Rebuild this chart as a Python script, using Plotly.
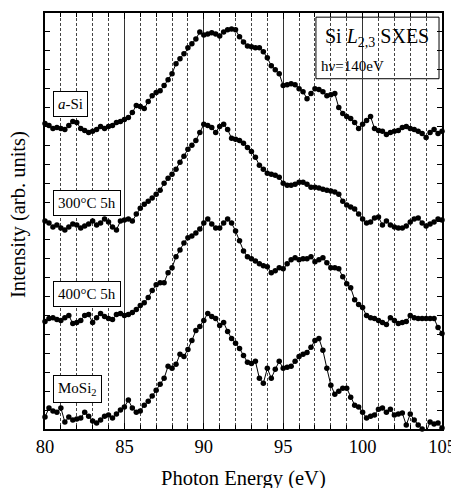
import plotly.graph_objects as go

# Photon energy (eV) sampling positions
energy = [
    80.0, 80.25, 80.5, 80.75, 81.0, 81.25, 81.5, 81.75, 82.0, 82.25, 82.5, 82.75,
    83.0, 83.25, 83.5, 83.75, 84.0, 84.25, 84.5, 84.75, 85.0, 85.25, 85.5, 85.75,
    86.0, 86.25, 86.5, 86.75, 87.0, 87.25, 87.5, 87.75, 88.0, 88.25, 88.5, 88.75,
    89.0, 89.25, 89.5, 89.75, 90.0, 90.25, 90.5, 90.75, 91.0, 91.25, 91.5, 91.75,
    92.0, 92.25, 92.5, 92.75, 93.0, 93.25, 93.5, 93.75, 94.0, 94.25, 94.5, 94.75,
    95.0, 95.25, 95.5, 95.75, 96.0, 96.25, 96.5, 96.75, 97.0, 97.25, 97.5, 97.75,
    98.0, 98.25, 98.5, 98.75, 99.0, 99.25, 99.5, 99.75, 100.0, 100.25, 100.5, 100.75,
    101.0, 101.25, 101.5, 101.75, 102.0, 102.25, 102.5, 102.75, 103.0, 103.25, 103.5, 103.75,
    104.0, 104.25, 104.5, 104.75, 105.0,
]

# Intensities (arb. units, curves vertically offset)
a_si = [
    16.16, 16.05, 15.89, 15.95, 15.89, 15.84, 16.05, 16.26, 16.21, 15.89, 15.79, 15.68,
    15.74, 15.84, 16.00, 15.89, 16.00, 16.05, 16.21, 16.26, 16.37, 16.47, 16.74, 17.11,
    17.05, 16.95, 17.32, 17.63, 17.79, 17.89, 18.16, 18.47, 18.79, 19.32, 19.58, 19.84,
    20.16, 20.37, 20.63, 21.00, 20.84, 20.89, 20.95, 20.89, 20.79, 21.00, 21.11, 21.16,
    21.11, 20.74, 20.47, 20.26, 20.21, 20.16, 20.16, 19.95, 19.63, 19.21, 19.00, 18.79,
    18.16, 18.21, 18.26, 18.21, 18.00, 17.84, 17.47, 17.74, 18.00, 17.95, 17.84, 17.63,
    17.68, 17.74, 17.00, 16.68, 16.53, 16.42, 16.21, 15.89, 16.11, 16.32, 16.53, 15.89,
    15.79, 15.74, 15.58, 15.68, 15.74, 15.79, 15.95, 16.00, 15.89, 15.84, 15.74, 15.63,
    15.42, 15.68, 15.84, 15.63, 15.74,
]

c300 = [
    11.00, 10.89, 10.68, 10.79, 10.63, 10.53, 10.68, 10.84, 10.79, 10.63, 10.74, 10.84,
    11.00, 10.79, 10.89, 11.11, 10.95, 10.68, 10.53, 11.00, 11.05, 11.11, 11.00, 11.37,
    11.68, 11.89, 12.05, 12.21, 12.42, 12.63, 13.00, 13.26, 13.47, 13.74, 14.11, 14.42,
    14.79, 15.00, 15.26, 15.68, 16.11, 16.05, 15.95, 15.68, 16.00, 16.11, 15.84, 15.37,
    15.32, 15.26, 15.11, 14.89, 14.68, 14.37, 13.95, 13.74, 13.53, 13.47, 13.42, 13.32,
    13.00, 12.89, 12.89, 12.95, 13.05, 13.05, 12.95, 12.79, 12.79, 12.74, 12.68, 12.63,
    12.58, 12.53, 12.42, 12.05, 11.84, 11.74, 11.63, 11.37, 11.11, 10.89, 10.95, 11.16,
    11.21, 10.79, 11.00, 10.79, 10.68, 10.63, 10.63, 10.74, 10.95, 11.11, 11.16, 10.89,
    10.74, 10.84, 10.95, 11.11, 11.05,
]

c400 = [
    5.68, 5.84, 5.89, 5.79, 5.74, 5.89, 6.00, 5.58, 5.63, 5.74, 6.00, 6.05,
    5.63, 5.89, 6.11, 5.95, 5.84, 5.79, 6.05, 6.11, 6.00, 6.05, 6.16, 6.32,
    6.53, 6.68, 6.95, 7.32, 7.63, 7.74, 7.74, 8.26, 8.53, 9.11, 9.47, 9.84,
    10.11, 10.21, 10.37, 10.58, 10.89, 11.11, 10.84, 10.63, 10.63, 10.89, 11.11, 10.89,
    10.47, 9.95, 9.42, 9.11, 9.00, 8.89, 8.74, 8.63, 8.58, 8.26, 8.37, 8.53,
    8.47, 8.74, 8.95, 9.05, 8.95, 9.00, 9.00, 9.11, 8.84, 8.95, 9.05, 8.79,
    8.53, 8.53, 8.47, 8.05, 7.68, 7.47, 6.84, 6.58, 6.42, 6.00, 5.89, 5.84,
    5.74, 5.63, 5.53, 5.89, 5.74, 5.58, 5.63, 5.68, 6.00, 5.89, 5.84, 5.84,
    5.84, 5.84, 5.84, 5.37, 5.05,
]

mosi2 = [
    0.63, 1.11, 0.95, 0.89, 1.11, 0.37, 0.63, 0.47, 0.53, 0.58, 0.89, 0.68,
    0.42, 0.32, 0.47, 0.68, 0.74, 0.58, 0.79, 1.00, 1.16, 1.53, 1.11, 0.89,
    0.95, 1.26, 1.47, 1.74, 2.05, 2.37, 2.68, 3.32, 3.21, 3.42, 3.95, 3.84,
    4.21, 4.68, 5.21, 5.42, 5.74, 6.11, 5.95, 5.84, 5.47, 5.63, 5.16, 4.79,
    4.53, 4.26, 3.89, 3.53, 3.47, 3.58, 2.68, 2.42, 3.21, 2.68, 3.16, 3.58,
    3.21, 3.26, 3.32, 3.58, 3.84, 3.95, 4.05, 4.32, 4.68, 4.79, 4.16, 3.21,
    2.32, 1.84, 2.00, 2.16, 2.16, 1.68, 1.26, 1.16, 0.89, 0.58, 0.68, 0.74,
    1.05, 1.11, 0.89, 1.05, 0.74, 0.79, 0.84, 0.21, 0.79, 0.47, 0.21, 0.00,
    -0.16, 0.37, 0.26, 0.32, 0.05,
]

series_names = ["a-Si", "300°C 5h", "400°C 5h", "MoSi2"]
series_values = [a_si, c300, c400, mosi2]

x_major_ticks = [80, 85, 90, 95, 100, 105]
x_tick_labels = ["80", "85", "90", "95", "100", "105"]

SERIF = "Liberation Serif, Times New Roman, serif"

fig = go.Figure()
for name, vals in zip(series_names, series_values):
    fig.add_trace(go.Scatter(
        x=energy, y=vals, name=name, mode="lines+markers",
        line=dict(color="black", width=1),
        marker=dict(color="black", size=5.5),
        cliponaxis=False, showlegend=False,
    ))

# The page body adds an 8px offset, so the figure is 8px smaller and margins shifted.
fig.update_layout(
    width=451, height=480,
    margin=dict(l=37, r=14, t=3, b=59),
    paper_bgcolor="white", plot_bgcolor="white",
    font=dict(family=SERIF, color="black"),
    xaxis=dict(
        range=[80, 105], tickvals=x_major_ticks, ticktext=x_tick_labels,
        ticks="inside", ticklen=6, tickcolor="black",
        tickfont=dict(family=SERIF, size=18.5, color="black"),
        showgrid=True, gridcolor="#333", gridwidth=1,
        minor=dict(dtick=1, ticks="inside", ticklen=4, tickcolor="black",
                   showgrid=True, gridcolor="#444", griddash="3px,2px", gridwidth=1),
        showline=True, mirror="ticks", linecolor="black", linewidth=1.5,
        zeroline=False,
    ),
    yaxis=dict(
        range=[0, 22], tick0=0, dtick=1, ticks="inside", ticklen=5, tickcolor="black",
        showticklabels=False, showgrid=False,
        showline=True, mirror="ticks", linecolor="black", linewidth=1.5,
        zeroline=False,
    ),
)

# Axis titles
fig.add_annotation(text="Photon Energy (eV)", xref="paper", yref="paper",
                   x=0.5, y=-0.118, showarrow=False, xanchor="center", yanchor="middle",
                   font=dict(family=SERIF, size=20.5))
fig.add_annotation(text="Intensity (arb. units)", xref="paper", yref="paper",
                   x=-0.065, y=0.515, showarrow=False, textangle=-90,
                   xanchor="center", yanchor="middle",
                   font=dict(family=SERIF, size=20.5))

# Curve labels in boxes
labels = [
    ("<i>a</i>-Si", 0.781),
    ("300°C 5h", 0.543),
    ("400°C 5h", 0.325),
    ("MoSi<sub>2</sub>", 0.096),
]
for txt, yp in labels:
    fig.add_annotation(text=txt, xref="paper", yref="paper", x=0.02, y=yp,
                       xanchor="left", yanchor="middle", showarrow=False,
                       font=dict(family=SERIF, size=15),
                       bgcolor="white", bordercolor="black", borderwidth=1, borderpad=4)

# Title box
fig.add_shape(type="rect", xref="paper", yref="paper",
              x0=0.6825, x1=0.9925, y0=0.842, y1=0.990,
              fillcolor="white", line=dict(color="black", width=1), layer="between")
fig.add_annotation(text="Si <i>L</i><sub>2,3</sub> SXES", xref="paper", yref="paper",
                   x=0.70, y=0.940, xanchor="left", yanchor="middle", showarrow=False,
                   font=dict(family=SERIF, size=20))
fig.add_annotation(text="hν=140eV", xref="paper", yref="paper",
                   x=0.69, y=0.873, xanchor="left", yanchor="middle", showarrow=False,
                   font=dict(family=SERIF, size=15))

fig.write_html("out.html")
